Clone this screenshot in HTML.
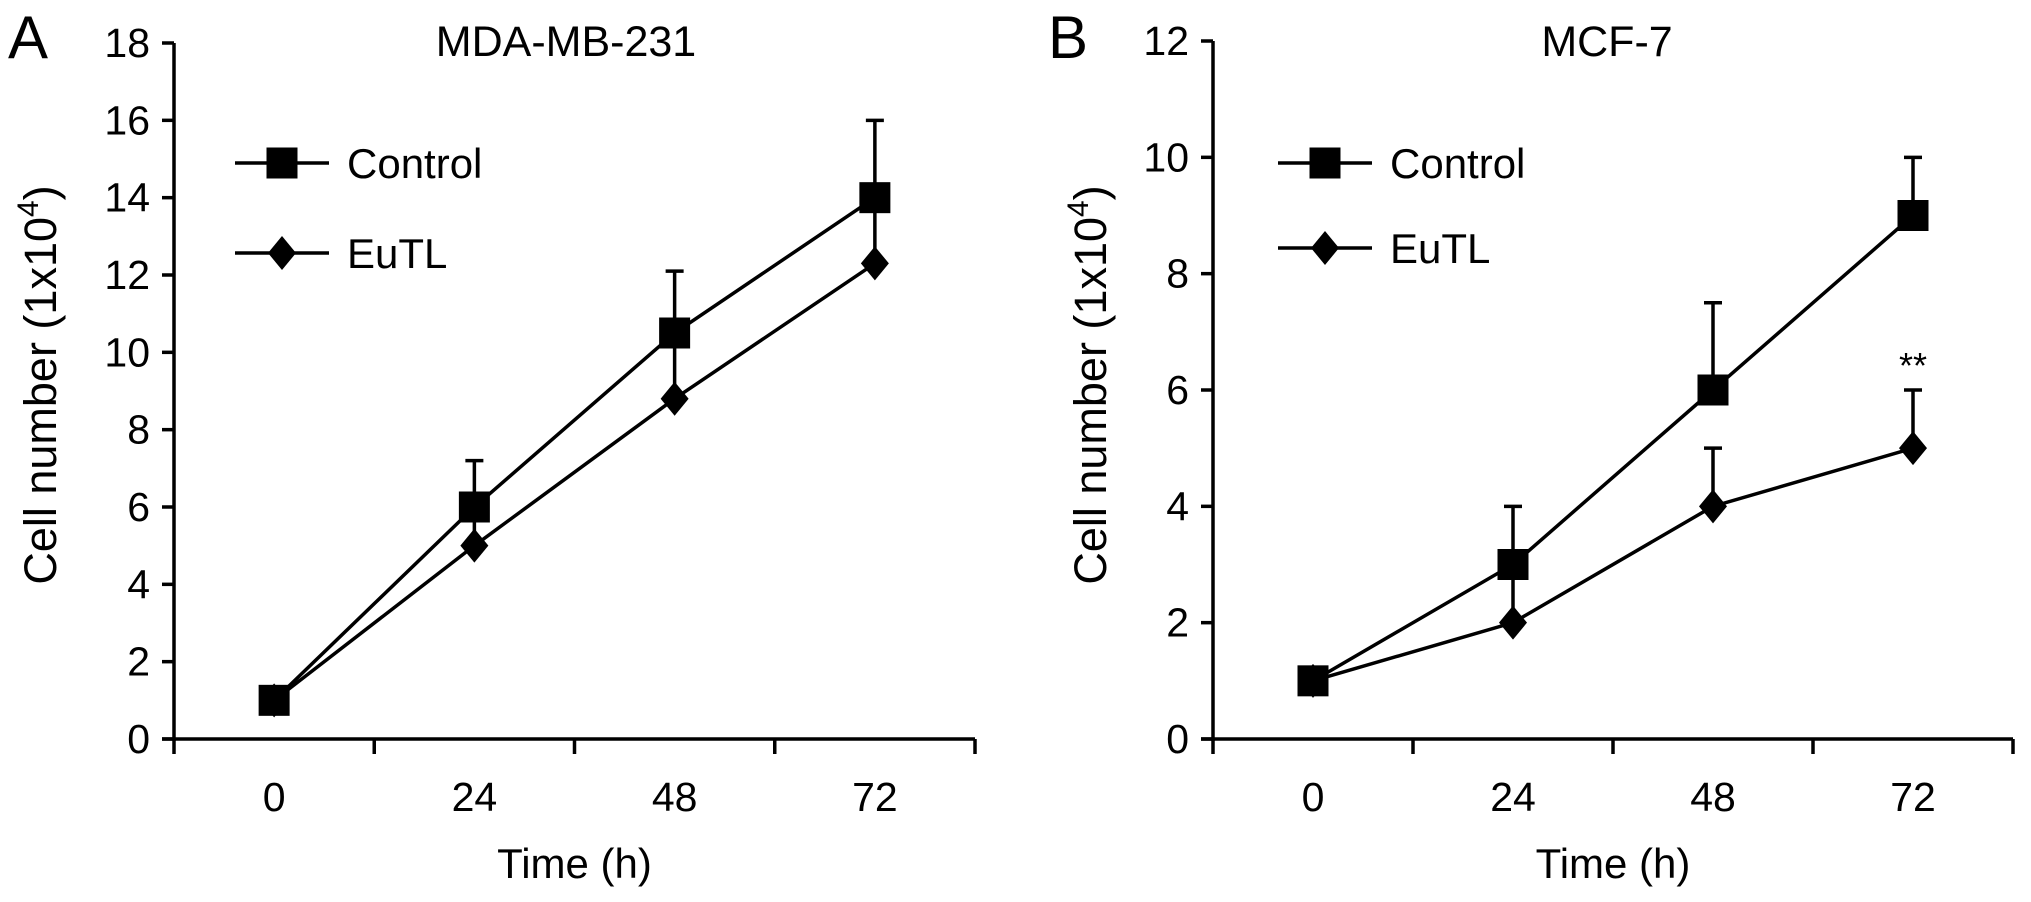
<!DOCTYPE html>
<html><head><meta charset="utf-8"><style>
html,body{margin:0;padding:0;background:#fff;}
svg{display:block;font-family:"Liberation Sans",Arial,sans-serif;}
</style></head><body>
<svg id="fig" width="2031" height="902" viewBox="0 0 2031 902"></svg>
<script>
const categories = ["0","24","48","72"];
const aControl = [1, 6, 10.5, 14];
const aControlErr = [0, 1.2, 1.6, 2];
const aEuTL = [1, 5, 8.8, 12.3];
const aEuTLErr = [0, 1, 1.7, 1.7];
const aTicks = [0,2,4,6,8,10,12,14,16,18];
const bControl = [1, 3, 6, 9];
const bControlErr = [0, 1, 1.5, 1];
const bEuTL = [1, 2, 4, 5];
const bEuTLErr = [0, 1, 1, 1];
const bTicks = [0,2,4,6,8,10,12];

const NS="http://www.w3.org/2000/svg";
const svg=document.getElementById('fig');
function mk(tag,attrs,parent,txt){const e=document.createElementNS(NS,tag);for(const k in attrs)e.setAttribute(k,attrs[k]);if(txt!==undefined)e.textContent=txt;(parent||svg).appendChild(e);return e;}

function panel(cfg){
  const g=mk('g',{});
  
  
  const x0=cfg.ax, x1=cfg.axEnd, yb=739, yt=cfg.yTop, ymax=cfg.ticks[cfg.ticks.length-1];
  const Y=v=>yb-(v/ymax)*(yb-yt);
  const step=(x1-x0)/categories.length;
  const X=i=>x0+step*(i+0.5);
  const st={stroke:'#000','stroke-width':3.5,fill:'none'};
  const ya=mk('line',Object.assign({x1:x0,y1:yt,x2:x0,y2:yb+2},st),g);
  
  
  const xa=mk('line',Object.assign({x1:x0-12,y1:yb,x2:x1,y2:yb},st),g);
  
  
  cfg.ticks.forEach(t=>{
    mk('line',Object.assign({x1:x0-12,y1:Y(t),x2:x0,y2:Y(t)},st),g);
    const tl=mk('text',{x:x0-24,y:Y(t)+14,'text-anchor':'end','font-size':41},g,String(t));
    
    
  });
  for(let i=0;i<=categories.length;i++){
    mk('line',Object.assign({x1:x0+step*i,y1:yb,x2:x0+step*i,y2:yb+15},st),g);
  }
  categories.forEach((c,i)=>{
    const tl=mk('text',{x:X(i),y:811,'text-anchor':'middle','font-size':41},g,c);
    
    
  });
  const xt=mk('text',{x:(x0+x1)/2,y:878,'text-anchor':'middle','font-size':42},g,'Time (h)');
  
  
  const yt2=mk('text',{x:0,y:0,'text-anchor':'middle','font-size':45,transform:`translate(${cfg.yTitleX},385) rotate(-90)`},g);
  
  
  yt2.appendChild(document.createTextNode('Cell number (1x10'));
  mk('tspan',{'font-size':30,dy:-18},yt2,'4');
  mk('tspan',{dy:18},yt2,')');
  const ti=mk('text',{x:cfg.titleX,y:56,'text-anchor':'middle','font-size':43},g,cfg.title);
  
  
  const pl=mk('text',{x:cfg.letterX,y:58,'font-size':60},g,cfg.letter);
  
  
  function series(vals,errs,name,shape){
    const sg=mk('g',{},g);
    
    
    vals.forEach((v,i)=>{ if(errs[i]>0){
      const top=Y(v+errs[i]);
      mk('line',Object.assign({x1:X(i),y1:Y(v),x2:X(i),y2:top},st),sg);
      mk('line',Object.assign({x1:X(i)-9,y1:top,x2:X(i)+9,y2:top},st),sg);
    }});
    mk('polyline',Object.assign({points:vals.map((v,i)=>X(i)+','+Y(v)).join(' ')},st),sg);
    vals.forEach((v,i)=>marker(sg,X(i),Y(v),shape,name));
  }
  function marker(p,x,y,shape,name){
    let m;
    if(shape==='sq') m=mk('rect',{x:x-15.5,y:y-15.5,width:31,height:31,fill:'#000'},p);
    else m=mk('polygon',{points:`${x},${y-17} ${x+14},${y} ${x},${y+17} ${x-14},${y}`,fill:'#000'},p);
    
    
  }
  series(cfg.eu,cfg.euErr,'eutl','di');
  series(cfg.ctrl,cfg.ctrlErr,'control','sq');
  [['Control','sq',163],['EuTL','di',cfg.legY2]].forEach(([lab,sh,ly])=>{
    const lg=mk('g',{},g);
    
    
    mk('line',Object.assign({x1:cfg.legX,y1:ly,x2:cfg.legX+94,y2:ly},st),lg);
    marker(lg,cfg.legX+47,ly,sh,'legend-'+lab.toLowerCase());
    mk('text',{x:cfg.legX+112,y:ly+15,'font-size':42},lg,lab);
  });
  if(cfg.star){
    const s=mk('text',{x:X(3),y:Y(cfg.eu[3]+cfg.euErr[3])-12,'text-anchor':'middle','font-size':36},g,'**');
    
    
  }
}
panel({id:'a',ax:174,axEnd:975,yTop:43,ticks:aTicks,ctrl:aControl,ctrlErr:aControlErr,eu:aEuTL,euErr:aEuTLErr,
  title:'MDA-MB-231',titleX:566,letter:'A',letterX:8,yTitleX:56,legX:235,legY2:253});
panel({id:'b',ax:1213,axEnd:2013,yTop:41,ticks:bTicks,ctrl:bControl,ctrlErr:bControlErr,eu:bEuTL,euErr:bEuTLErr,
  title:'MCF-7',titleX:1607,letter:'B',letterX:1048,yTitleX:1106,legX:1278,legY2:248,star:true});
</script>
</body></html>
